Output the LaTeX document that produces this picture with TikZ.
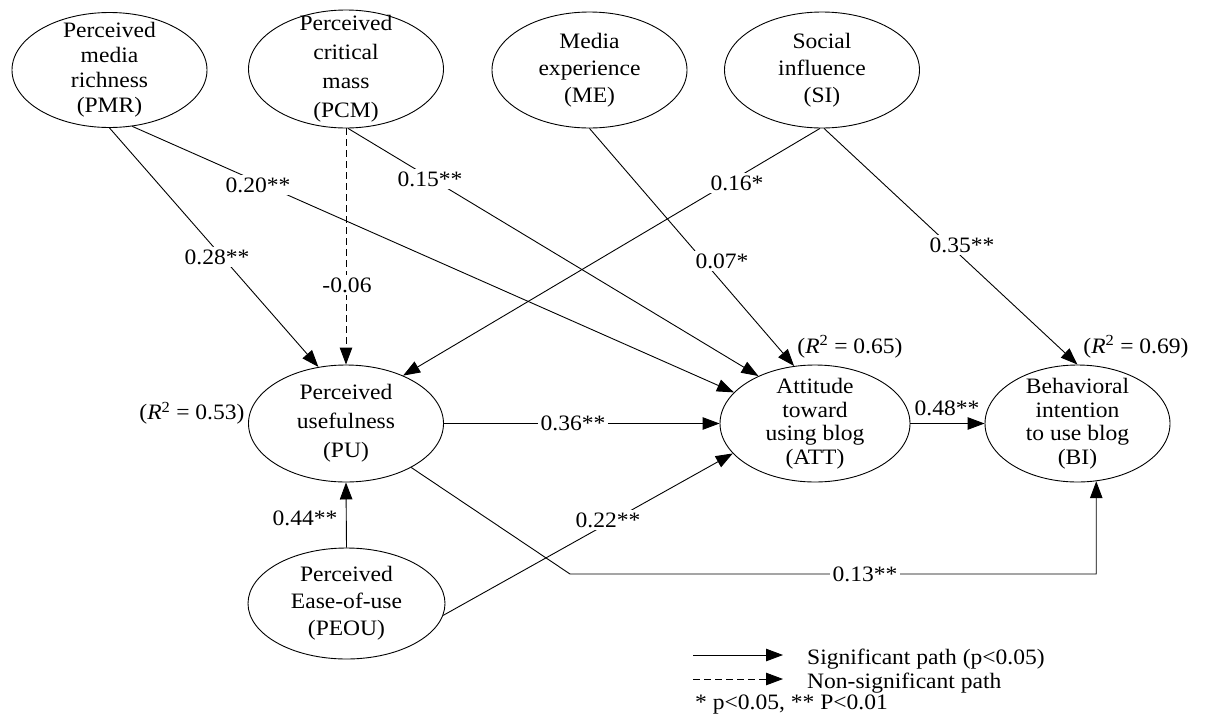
\documentclass[tikz,border=0pt]{standalone}
\usepackage{fontspec}
\setmainfont{Liberation Serif}[FakeStretch=1.07]
\usetikzlibrary{shapes.geometric,arrows.meta}
\begin{document}
\begin{tikzpicture}[x=1pt,y=-1pt,
  lat/.style={ellipse, draw, line width=0.9pt, inner sep=0pt},
  intext/.style={inner sep=0pt, align=center},
  arr/.style={line width=0.9pt, -{Triangle[length=17pt,width=12.5pt]}},
  nsig/.style={dash pattern=on 7pt off 4pt},
  lab/.style={fill=white, inner sep=3pt, font=\fontsize{22}{24}\selectfont},
  plainlab/.style={inner sep=0pt, font=\fontsize{22}{24}\selectfont}]
\useasboundingbox (0,0) rectangle (1226,726);

% latent variables
\node[lat, minimum width=195pt, minimum height=115pt,
  label={[intext, font=\fontsize{22}{25}\selectfont]center:{Perceived\\media\\richness\\(PMR)}}] (PMR) at (109.5,70) {};
\node[lat, minimum width=195pt, minimum height=118pt,
  label={[intext, font=\fontsize{22}{29}\selectfont]center:{Perceived\\critical\\mass\\(PCM)}}] (PCM) at (346,69) {};
\node[lat, minimum width=195pt, minimum height=116pt,
  label={[intext, font=\fontsize{22}{27}\selectfont]center:{Media\\experience\\(ME)}}] (ME) at (589.5,70) {};
\node[lat, minimum width=195pt, minimum height=116pt,
  label={[intext, font=\fontsize{22}{27}\selectfont]center:{Social\\influence\\(SI)}}] (SI) at (822,70) {};
\node[lat, minimum width=195pt, minimum height=117pt,
  label={[intext, font=\fontsize{22}{29}\selectfont]center:{Perceived\\usefulness\\(PU)}}] (PU) at (346,423.5) {};
\node[lat, minimum width=190pt, minimum height=117pt,
  label={[intext, font=\fontsize{22}{23.5}\selectfont]center:{Attitude\\toward\\using blog\\(ATT)}}] (ATT) at (815,423.5) {};
\node[lat, minimum width=185pt, minimum height=117pt,
  label={[intext, font=\fontsize{22}{23.5}\selectfont]center:{Behavioral\\intention\\to use blog\\(BI)}}] (BI) at (1077.5,423.5) {};
\node[lat, minimum width=197pt, minimum height=111pt,
  label={[intext, font=\fontsize{22}{27}\selectfont]center:{Perceived\\Ease-of-use\\(PEOU)}}] (PEOU) at (346.5,603.5) {};

% paths
\draw[arr] (PMR.270) -- (PU.116);
\draw[arr] (PMR.292) -- (ATT.159);
\draw[arr, nsig] (PCM.270) -- (PU.90);
\draw[arr] (PCM.272) -- (ATT.140);
\draw[arr] (ME.270) -- (ATT.110);
\draw[arr] (SI.268) -- (PU.40);
\draw[arr] (SI.272) -- (BI.90);
\draw[arr] (PU) -- (ATT);
\draw[arr] (ATT) -- (BI);
\draw[arr] (PEOU.90) -- (PU.270);
\draw[arr] (PEOU.-7) -- (ATT.200);
\coordinate (c1) at (570,574);
\draw[arr] (PU.-34) -- (c1) -| (BI.288);

% path coefficients
\node[lab] (l1) at (217,257) {0.28**};
\node[lab] (l2) at (258,185) {0.20**};
\node[lab] (l3) at (347,285) {-0.06};
\node[lab] (l4) at (430,179) {0.15**};
\node[lab] (l5) at (722,261) {0.07*};
\node[lab] (l6) at (737,183) {0.16*};
\node[lab] (l7) at (962,245) {0.35**};
\node[lab] (l8) at (573,423) {0.36**};
\node[plainlab] (l9) at (947,408) {0.48**};
\node[plainlab] (l10) at (305,518) {0.44**};
\node[lab] (l11) at (608,520) {0.22**};
\node[lab] (l12) at (865,574) {0.13**};

% R squared
\node[plainlab] (r1) at (192,413) {(\textit{R}\textsuperscript{2} = 0.53)};
\node[plainlab] (r2) at (850,347) {(\textit{R}\textsuperscript{2} = 0.65)};
\node[plainlab] (r3) at (1136,347) {(\textit{R}\textsuperscript{2} = 0.69)};

% legend
\coordinate (s1) at (693,655);
\coordinate (s2) at (783,655);
\draw[arr] (s1) -- (s2);
\coordinate (d1) at (693,679);
\coordinate (d2) at (783,679);
\draw[arr, nsig] (d1) -- (d2);
\node[plainlab, anchor=base west] (g1) at (807,664) {Significant path (p<0.05)};
\node[plainlab, anchor=base west] (g2) at (807,688) {Non-significant path};
\node[plainlab, anchor=base west] (g3) at (695,709) {* p<0.05, ** P<0.01};
\end{tikzpicture}
\end{document}
